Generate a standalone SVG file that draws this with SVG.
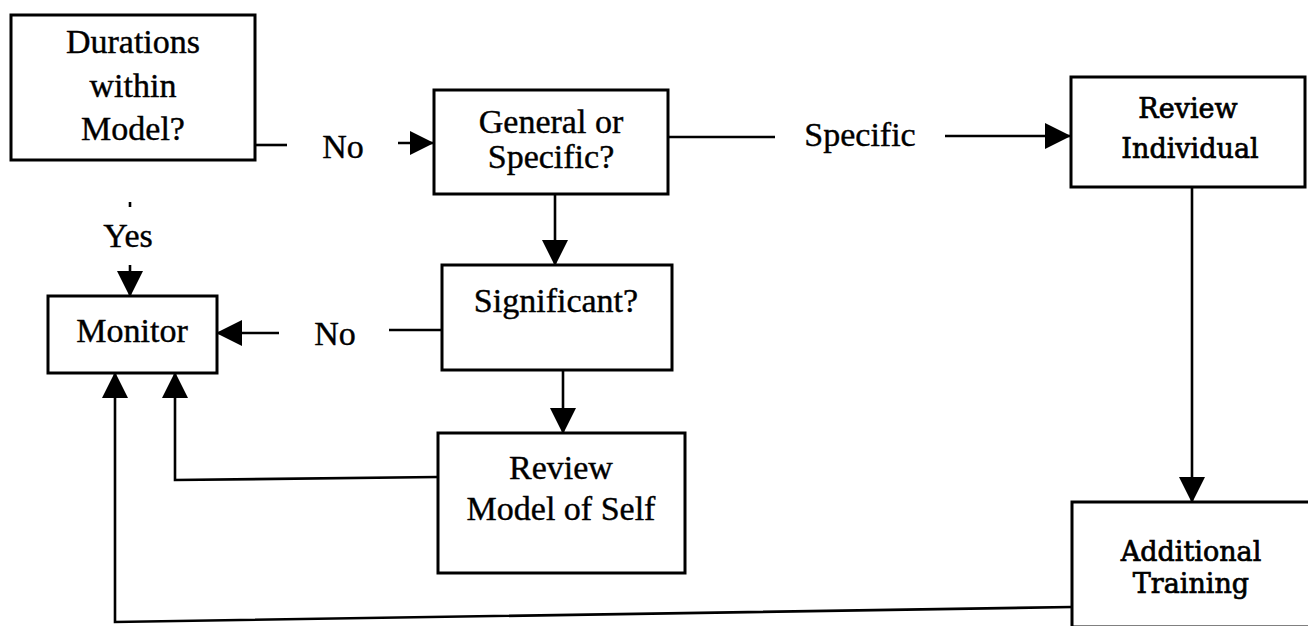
<svg xmlns="http://www.w3.org/2000/svg" width="1308" height="626" viewBox="0 0 1308 626">
  <style>
    .box { fill: #fff; stroke: #000; stroke-width: 3; }
    .wire { fill: none; stroke: #000; stroke-width: 2.6; }
    .t { font-family: "Liberation Serif", "Times New Roman", serif; font-size: 34px; fill: #000; stroke: #000; stroke-width: 0.4; text-anchor: middle; }
    .t2 { font-family: "DejaVu Serif", "Liberation Serif", serif; font-size: 27px; fill: #000; stroke: #000; stroke-width: 0.7; text-anchor: middle; }
  </style>
  <defs>
    <marker id="arrow" markerUnits="userSpaceOnUse" markerWidth="26" markerHeight="26" refX="26" refY="13" orient="auto">
      <path d="M0,0 L26,13 L0,26 Z" fill="#000"/>
    </marker>
    <marker id="arrowSmall" markerUnits="userSpaceOnUse" markerWidth="24" markerHeight="24" refX="24" refY="12" orient="auto">
      <path d="M0,0 L24,12 L0,24 Z" fill="#000"/>
    </marker>
  </defs>
  <rect width="1308" height="626" fill="#fff"/>

  <g id="connectors">
    <!-- Durations -> General or Specific (No) -->
    <line class="wire" x1="255" y1="145" x2="287" y2="145"/>
    <line class="wire" x1="398" y1="143" x2="434" y2="143" marker-end="url(#arrowSmall)"/>
    <text class="t" x="343" y="158">No</text>

    <!-- General or Specific -> Review Individual (Specific) -->
    <line class="wire" x1="668" y1="137" x2="775" y2="137"/>
    <line class="wire" x1="945" y1="136" x2="1071" y2="136" marker-end="url(#arrow)"/>
    <text class="t" x="860" y="146">Specific</text>

    <!-- Review Individual -> Additional Training -->
    <line class="wire" x1="1192" y1="187" x2="1192" y2="503" marker-end="url(#arrow)"/>

    <!-- General or Specific -> Significant -->
    <line class="wire" x1="555" y1="194" x2="555" y2="266" marker-end="url(#arrow)"/>

    <!-- Significant -> Monitor (No) -->
    <line class="wire" x1="389" y1="330" x2="442" y2="330"/>
    <line class="wire" x1="279" y1="333" x2="216" y2="333" marker-end="url(#arrow)"/>
    <text class="t" x="335" y="345">No</text>

    <!-- Significant -> Review Model of Self -->
    <line class="wire" x1="563" y1="370" x2="563" y2="434" marker-end="url(#arrow)"/>

    <!-- Review Model of Self -> Monitor -->
    <polyline class="wire" points="438,477 175,480 175,372" marker-end="url(#arrow)"/>

    <!-- Additional Training -> Monitor -->
    <polyline class="wire" points="1072,607 115,622 115,372" marker-end="url(#arrow)"/>

    <!-- Durations -> Monitor (Yes) -->
    <line class="wire" x1="130" y1="202" x2="130" y2="207"/>
    <line class="wire" x1="130" y1="265" x2="130" y2="297" marker-end="url(#arrow)"/>
    <text class="t" x="128" y="247">Yes</text>
  </g>

  <g id="durations">
    <rect class="box" x="11" y="15" width="244" height="145"/>
    <text class="t" x="133" y="53">Durations</text>
    <text class="t" x="133" y="97">within</text>
    <text class="t" x="133" y="140">Model?</text>
  </g>

  <g id="general-specific">
    <rect class="box" x="434" y="90" width="234" height="104"/>
    <text class="t" x="551" y="133">General or</text>
    <text class="t" x="551" y="168">Specific?</text>
  </g>

  <g id="review-individual">
    <rect class="box" x="1071" y="77" width="234" height="110"/>
    <text class="t2" x="1188" y="118">Review</text>
    <text class="t2" x="1190" y="158">Individual</text>
  </g>

  <g id="monitor">
    <rect class="box" x="48" y="296" width="169" height="77"/>
    <text class="t" x="132" y="342">Monitor</text>
  </g>

  <g id="significant">
    <rect class="box" x="442" y="265" width="230" height="105"/>
    <text class="t" x="556" y="312">Significant?</text>
  </g>

  <g id="review-model">
    <rect class="box" x="438" y="433" width="247" height="140"/>
    <text class="t" x="561" y="479">Review</text>
    <text class="t" x="561" y="520">Model of Self</text>
  </g>

  <g id="additional-training">
    <rect class="box" x="1072" y="502" width="240" height="125"/>
    <text class="t2" x="1191" y="561">Additional</text>
    <text class="t2" x="1191" y="593">Training</text>
  </g>
</svg>
